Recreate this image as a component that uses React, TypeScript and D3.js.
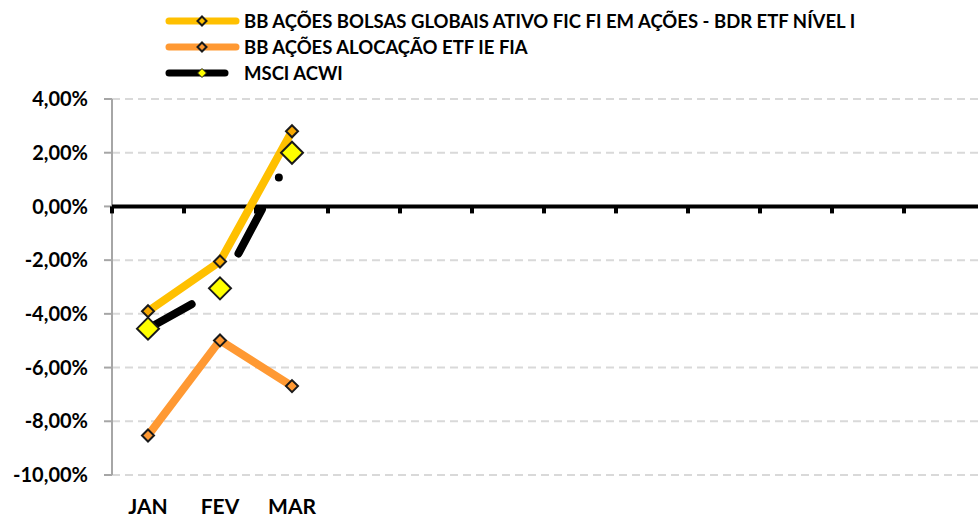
import React from "react";
import * as d3 from "d3";

const categories = ["JAN", "FEV", "MAR", "", "", "", "", "", "", "", "", ""];
const seriesNames = [
  "BB AÇÕES BOLSAS GLOBAIS ATIVO FIC FI EM AÇÕES - BDR ETF NÍVEL I",
  "BB AÇÕES ALOCAÇÃO ETF IE FIA",
  "MSCI ACWI",
];
const globaisValues = [-3.9, -2.05, 2.8];
const alocacaoValues = [-8.53, -4.99, -6.69];
const msciValues = [-4.55, -3.05, 2.0];
const yTicks = [4, 2, 0, -2, -4, -6, -8, -10];

const W = 978;
const H = 521;
const font = "Lato, 'Open Sans', sans-serif";

export default function App() {
  const x = d3
    .scaleBand<number>()
    .domain(categories.map((_, i) => i))
    .range([112, 976]);
  const y = d3.scaleLinear().domain([-10, 4]).range([475, 99]);
  const cx = (i: number) => (x(i) as number) + x.bandwidth() / 2;
  const line = d3
    .line<number>()
    .x((_, i) => cx(i))
    .y((d) => y(d));

  const diamond = (px: number, py: number, r: number) =>
    `M${px},${py - r}L${px + r},${py}L${px},${py + r}L${px - r},${py}Z`;

  const series = [
    { values: globaisValues, color: "#FFC000", marker: "#F7A800", r: 6, dash: undefined as string | undefined },
    { values: alocacaoValues, color: "#FF9933", marker: "#FF9933", r: 6, dash: undefined },
    { values: msciValues, color: "#000000", marker: "#FFFF00", r: 11, dash: "50 36 0 36" },
  ];

  const legendY = [21, 47, 73];
  const legendEnd = [239, 239, 228];

  return (
    <svg width={W} height={H} style={{ position: "absolute", left: 0, top: 0 }}>
      <rect width={W} height={H} fill="#fff" />
      {yTicks
        .filter((t) => t !== 0)
        .map((t) => (
          <line
            key={"g" + t}
            x1={112}
            x2={978}
            y1={y(t)}
            y2={y(t)}
            stroke="#D9D9D9"
            strokeWidth={2}
            strokeDasharray="8 5"
          />
        ))}
      <line x1={112} x2={112} y1={y(4)} y2={y(-10)} stroke="#A6A6A6" strokeWidth={2} />
      {yTicks.map((t) => (
        <g key={"t" + t}>
          <line x1={104} x2={112} y1={y(t)} y2={y(t)} stroke="#A6A6A6" strokeWidth={2} />
          <text
            x={88}
            y={y(t)}
            dy="0.36em"
            textAnchor="end"
            fontFamily={font}
            fontWeight="bold"
            fontSize={20}
            fill="#000"
          >
            {t.toFixed(2).replace(".", ",") + "%"}
          </text>
        </g>
      ))}
      <line x1={112} x2={978} y1={y(0)} y2={y(0)} stroke="#000" strokeWidth={4} />
      {categories.map((_, i) => (
        <line
          key={"xt" + i}
          x1={x(i) as number}
          x2={x(i) as number}
          y1={y(0)}
          y2={y(0) + 7}
          stroke="#000"
          strokeWidth={4}
        />
      ))}
      {categories.map((c, i) => (
        <text
          key={"xl" + i}
          x={cx(i)}
          y={514}
          textAnchor="middle"
          fontFamily={font}
          fontWeight="bold"
          fontSize={21}
          fill="#000"
        >
          {c}
        </text>
      ))}
      {series.map((s, si) => (
        <g key={"s" + si}>
          <path
            d={line(s.values) as string}
            fill="none"
            stroke={s.color}
            strokeWidth={8}
            strokeLinecap="round"
            strokeLinejoin="round"
            strokeDasharray={s.dash}
          />
          {s.values.map((v, i) => (
            <path
              key={i}
              d={diamond(cx(i), y(v), s.r)}
              fill={s.marker}
              stroke="#1a1a1a"
              strokeWidth={2}
            />
          ))}
        </g>
      ))}
      {seriesNames.map((n, i) => (
        <g key={"lg" + i}>
          <line
            x1={169}
            x2={legendEnd[i] - 3}
            y1={legendY[i]}
            y2={legendY[i]}
            stroke={series[i].color}
            strokeWidth={7}
            strokeLinecap="round"
          />
          <path
            d={diamond(202, legendY[i], 4.5)}
            fill={i === 2 ? "#FFFF00" : series[i].color}
            stroke="#1a1a1a"
            strokeWidth={i === 2 ? 1 : 2}
          />
          <text
            x={244}
            y={legendY[i]}
            dy="0.36em"
            fontFamily={font}
            fontWeight="bold"
            fontSize={18.5}
            fill="#000"
          >
            {n}
          </text>
        </g>
      ))}
    </svg>
  );
}
